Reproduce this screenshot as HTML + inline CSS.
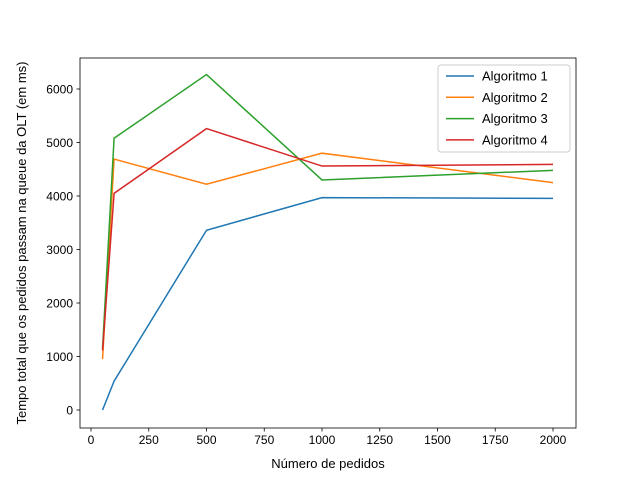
<!DOCTYPE html>
<html><head><meta charset="utf-8"><style>body{margin:0;background:#fff}svg{font-family:"Liberation Sans","DejaVu Sans",sans-serif}</style></head>
<body>
<svg id="chart" width="640" height="480"></svg>
<script>
const categories = [50, 100, 500, 1000, 2000];
const alg1 = [0, 540, 3360, 3970, 3955];
const alg2 = [950, 4690, 4220, 4800, 4250];
const alg3 = [1150, 5080, 6270, 4300, 4480];
const alg4 = [1110, 4050, 5260, 4560, 4590];
const seriesNames = ["Algoritmo 1", "Algoritmo 2", "Algoritmo 3", "Algoritmo 4"];
const xTicks = [0, 250, 500, 750, 1000, 1250, 1500, 1750, 2000];
const yTicks = [0, 1000, 2000, 3000, 4000, 5000, 6000];

const NS = "http://www.w3.org/2000/svg";
const svg = document.getElementById("chart");
const L = 80, R = 576, T = 58, B = 428;
const xs = v => 91 + v * 0.231;
const ys = v => 410 - v * 0.0535;
function mk(tag, attrs, parent) {
  const e = document.createElementNS(NS, tag);
  for (const k in attrs) e.setAttribute(k, attrs[k]);
  (parent || svg).appendChild(e);
  return e;
}
const colors = ["#1f77b4", "#ff7f0e", "#2ca02c", "#d62728"];
const data = [alg1, alg2, alg3, alg4];

data.forEach((s, i) => {
  const p = mk("polyline", {points: s.map((v, j) => xs(categories[j]) + "," + ys(v)).join(" "), fill: "none", stroke: colors[i], "stroke-width": 1.5});
  
  
});

const frame = mk("rect", {x: L, y: T, width: R - L, height: B - T, fill: "none", stroke: "#000", "stroke-width": 0.8});



xTicks.forEach(t => {
  const x = xs(t);
  mk("line", {x1: x, x2: x, y1: B, y2: B + 3.5, stroke: "#000", "stroke-width": 0.8});
  const tx = mk("text", {x: x, y: B + 16, "text-anchor": "middle", "font-size": 12});
  tx.textContent = t;
  
  
});
yTicks.forEach(t => {
  const y = ys(t);
  mk("line", {x1: L, x2: L - 3.5, y1: y, y2: y, stroke: "#000", "stroke-width": 0.8});
  const tx = mk("text", {x: L - 7, y: y + 4.5, "text-anchor": "end", "font-size": 12});
  tx.textContent = t;
  
  
});

const xt = mk("text", {x: 328, y: 468, "text-anchor": "middle", "font-size": 13});
xt.textContent = "Número de pedidos";


const yt = mk("text", {x: 26, y: 243, "text-anchor": "middle", "font-size": 13, transform: "rotate(-90 26 243)"});
yt.textContent = "Tempo total que os pedidos passam na queue da OLT (em ms)";



const lg = mk("g", {});


mk("rect", {x: 438, y: 65, width: 132, height: 87, rx: 3, fill: "#fff", "fill-opacity": 0.8, stroke: "#ccc"}, lg);
seriesNames.forEach((n, i) => {
  const y = 76 + i * 21.3;
  const ln = mk("line", {x1: 446, x2: 474, y1: y, y2: y, stroke: colors[i], "stroke-width": 1.5}, lg);
  
  
  const tx = mk("text", {x: 482, y: y + 4.5, "font-size": 13}, lg);
  tx.textContent = n;
  
  
});
</script>
</body></html>
